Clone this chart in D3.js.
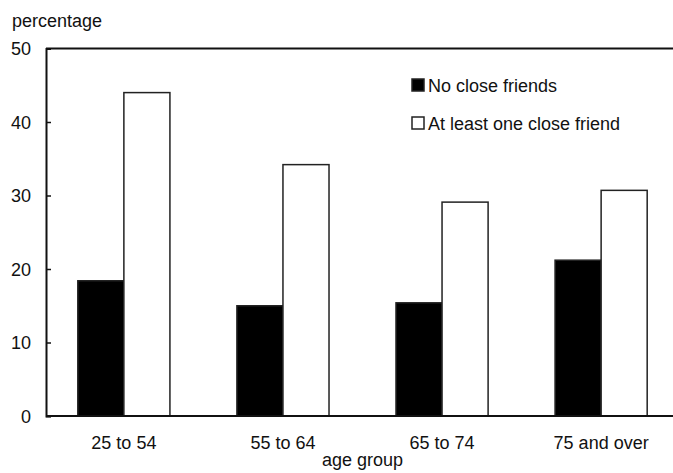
<!DOCTYPE html>
<html><head><meta charset="utf-8">
<script src="https://cdn.jsdelivr.net/npm/d3@7"></script>
<style>body{margin:0;background:#fff}svg{display:block}text{font-family:"Liberation Sans",Arial,sans-serif;fill:#111}</style>
</head><body><svg width="673" height="473"></svg>
<script>
const categories = ["25 to 54","55 to 64","65 to 74","75 and over"];
const seriesNames = ["No close friends","At least one close friend"];
const noClose = [18.4, 15.0, 15.4, 21.2];
const atLeastOne = [44.0, 34.2, 29.1, 30.7];
const yTicks = [0,10,20,30,40,50];

const svg = d3.select("svg");
const L = 46, R = 679, T = 48.5, B = 416;
const x = d3.scaleBand().domain(categories).range([L,R]).paddingInner(0.421).paddingOuter(0.2);
const xs = d3.scaleBand().domain(seriesNames).range([0, x.bandwidth()]);
const y = d3.scaleLinear().domain([0,50]).range([B,T]);
const colors = ["#000","#fff"];
const data = categories.map((c,i)=>({c, v:[noClose[i], atLeastOne[i]]}));

const g = svg.append("g");
data.forEach(d=>{
  d.v.forEach((v,j)=>{
    g.append("rect")
      .attr("x", x(d.c)+xs(seriesNames[j]))
      .attr("y", y(v))
      .attr("width", xs.bandwidth())
      .attr("height", B - y(v))
      .attr("fill", colors[j])
      .attr("stroke", "#222").attr("stroke-width", 1.5);
  });
});

svg.append("line").attr("x1",L).attr("x2",R).attr("y1",y(50)).attr("y2",y(50)).attr("stroke","#111").attr("stroke-width",2);
svg.append("line").attr("x1",R).attr("x2",R).attr("y1",y(50)).attr("y2",B).attr("stroke","#111").attr("stroke-width",2);

const yAxis = d3.axisLeft(y).tickValues(yTicks).tickSize(-5).tickPadding(15).tickFormat(d3.format("d"));
const ya = svg.append("g").attr("transform",`translate(${L},0)`).call(yAxis);
ya.select(".domain").attr("stroke","#111").attr("stroke-width",2);
ya.selectAll(".tick line").attr("stroke","#111").attr("stroke-width",1.5);
ya.selectAll(".tick text").attr("font-size",18).attr("dy","0.35em").style("fill","#111");

const xAxis = d3.axisBottom(x).tickSize(0).tickPadding(18);
const xa = svg.append("g").attr("transform",`translate(0,${B})`).call(xAxis);
xa.select(".domain").attr("stroke","#111").attr("stroke-width",2).attr("d",`M${L},0H${R}`);
xa.selectAll(".tick text").attr("font-size",18).attr("dy",0).attr("y",33).style("fill","#111");

svg.append("text").attr("x",12).attr("y",27).attr("font-size",18).text("percentage");
svg.append("text").attr("x",(L+R)/2).attr("y",466).attr("text-anchor","middle").attr("font-size",18).text("age group");

const leg = svg.append("g");
seriesNames.forEach((s,i)=>{
  const yy = 79 + i*38;
  leg.append("rect").attr("x",412).attr("y",yy).attr("width",12).attr("height",12)
    .attr("fill",colors[i]).attr("stroke","#222").attr("stroke-width",1.5);
  leg.append("text").attr("x",428).attr("y",yy+13).attr("font-size",18).text(s);
});
</script></body></html>
